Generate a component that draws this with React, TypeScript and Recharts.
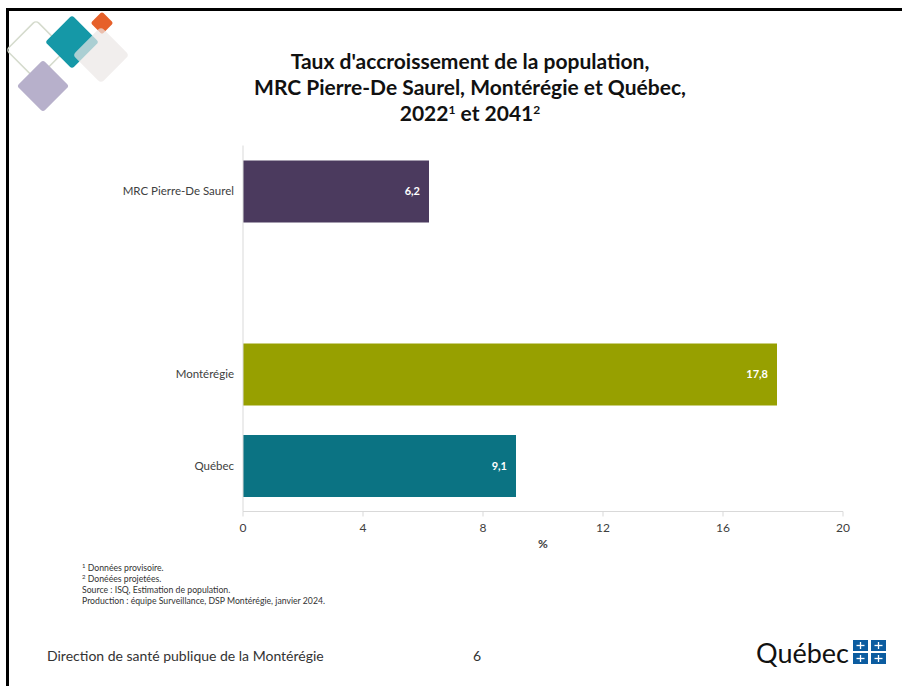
import { BarChart, Bar, XAxis, YAxis, Cell, LabelList } from 'recharts';

// categories top to bottom; the blank one leaves the gap seen in the slide
const regions = ['MRC Pierre-De Saurel', ' ', 'Montérégie', 'Québec'];
const growthRates: (number | null)[] = [6.2, null, 17.8, 9.1];
const barColors = ['#4b3a5e', 'transparent', '#97a000', '#0b7383'];
const xTicks = [0, 4, 8, 12, 16, 20];

const footnotes = [
	'Données provisoire.',
	'Donéées projetées.',
];
const sourceLines = [
	'Source : ISQ, Estimation de population.',
	'Production : équipe Surveillance, DSP Montérégie, janvier 2024.',
];

const data = regions.map((name, i) => ({ name, value: growthRates[i] }));

const font = 'Lato, "Open Sans", sans-serif';

const Logo = () => (
	<svg
		width={140}
		height={120}
		style={{ position: 'absolute', left: 0, top: 0 }}>
		<rect
			x={36 - 21}
			y={50 - 21}
			width={42}
			height={42}
			rx={4}
			fill='none'
			stroke='#d5dbcd'
			strokeWidth={1.5}
			transform='rotate(45 36 50)'
		/>
		<rect
			x={43 - 18.5}
			y={86 - 18.5}
			width={37}
			height={37}
			rx={3}
			fill='#b7b0cb'
			transform='rotate(45 43 86)'
		/>
		<rect
			x={72 - 19}
			y={42 - 19}
			width={38}
			height={38}
			rx={3}
			fill='#1598a7'
			transform='rotate(45 72 42)'
		/>
		<rect
			x={102 - 8}
			y={23 - 8}
			width={16}
			height={16}
			rx={2}
			fill='#e6602a'
			transform='rotate(45 102 23)'
		/>
		<rect
			x={101 - 20}
			y={55 - 20}
			width={40}
			height={40}
			rx={4}
			fill='#ebe7e6'
			opacity={0.7}
			transform='rotate(45 101 55)'
		/>
	</svg>
);

const QuebecLogo = () => (
	<div style={{ position: 'absolute', left: 756, top: 636, display: 'flex', alignItems: 'center' }}>
		<span style={{ fontFamily: font, fontSize: 27, color: '#111' }}>Québec</span>
		<svg width={34} height={25} style={{ marginLeft: 4 }}>
			{[0, 1].map((r) =>
				[0, 1].map((c) => (
					<g key={`${r}-${c}`}>
						<rect x={c * 18} y={r * 13} width={15} height={11} fill='#0b5ca0' />
						<line x1={c * 18 + 7.5} y1={r * 13 + 2} x2={c * 18 + 7.5} y2={r * 13 + 9} stroke='#fff' strokeWidth={1.3} />
						<line x1={c * 18 + 3.5} y1={r * 13 + 5.5} x2={c * 18 + 11.5} y2={r * 13 + 5.5} stroke='#fff' strokeWidth={1.3} />
					</g>
				))
			)}
		</svg>
	</div>
);

const App = () => {
	return (
		<div
			style={{
				position: 'absolute',
				left: 0,
				top: 0,
				width: 902,
				height: 686,
				overflow: 'hidden',
				background: '#fff',
				fontFamily: font,
			}}>
			<div
				style={{
					position: 'absolute',
					left: 6,
					top: 8,
					width: 902,
					height: 700,
					borderTop: '3px solid #000',
					borderLeft: '3px solid #000',
				}}
			/>
			<Logo />
			<div
				style={{
					position: 'absolute',
					left: 220,
					top: 48,
					width: 500,
					textAlign: 'center',
					fontWeight: 700,
					fontSize: 21,
					lineHeight: '26px',
					color: '#111',
				}}>
				<div>Taux d'accroissement de la population,</div>
				<div>MRC Pierre-De Saurel, Montérégie et Québec,</div>
				<div>
					2022<sup style={{ fontSize: 12, verticalAlign: 7, lineHeight: 0 }}>1</sup> et 2041
					<sup style={{ fontSize: 12, verticalAlign: 7, lineHeight: 0 }}>2</sup>
				</div>
			</div>
			<div style={{ position: 'absolute', left: 0, top: 130 }}>
				<BarChart
					width={902}
					height={430}
					layout='vertical'
					data={data}
					margin={{ top: 15.5, right: 59, left: 8, bottom: 10.5 }}
					barCategoryGap={14.5}>
					<XAxis
						type='number'
						domain={[0, 20]}
						ticks={xTicks}
						height={38}
						tickSize={5}
						tickMargin={7}
						axisLine={{ stroke: '#d9d9d9' }}
						tickLine={{ stroke: '#d9d9d9' }}
						tick={{ fontSize: 12, fill: '#404040', fontFamily: font }}
						label={{
							value: '%',
							position: 'insideBottom',
							offset: 2,
							fontSize: 12,
							fontWeight: 700,
							fill: '#404040',
							fontFamily: font,
						}}
					/>
					<YAxis
						type='category'
						dataKey='name'
						width={235}
						tickSize={0}
						tickMargin={9}
						axisLine={{ stroke: '#d9d9d9' }}
						tickLine={false}
						tick={{ fontSize: 11.5, fill: '#404040', fontFamily: font }}
					/>
					<Bar dataKey='value' isAnimationActive={false} barSize={62}>
						{data.map((d, i) => (
							<Cell key={d.name} fill={barColors[i]} />
						))}
						<LabelList
							dataKey='value'
							position='insideRight'
							offset={9}
							formatter={(v: any) => (v == null ? '' : String(v).replace('.', ','))}
							style={{ fill: '#fff', fontSize: 11, fontWeight: 700, fontFamily: font }}
						/>
					</Bar>
				</BarChart>
			</div>
			<div
				style={{
					position: 'absolute',
					left: 82,
					top: 562,
					fontSize: 8.7,
					color: '#333',
				}}>
				{footnotes.map((t, i) => (
					<div key={t} style={{ lineHeight: '11px' }}>
						<sup style={{ fontSize: 6, verticalAlign: 3, lineHeight: 0 }}>{i + 1}</sup> {t}
					</div>
				))}
				{sourceLines.map((t) => (
					<div key={t} style={{ lineHeight: '11px' }}>
						{t}
					</div>
				))}
			</div>
			<div
				style={{
					position: 'absolute',
					left: 47,
					top: 647,
					fontSize: 14,
					color: '#333',
				}}>
				Direction de santé publique de la Montérégie
			</div>
			<div style={{ position: 'absolute', left: 473, top: 647, fontSize: 14, color: '#333' }}>6</div>
			<QuebecLogo />
		</div>
	);
};

export default App;
